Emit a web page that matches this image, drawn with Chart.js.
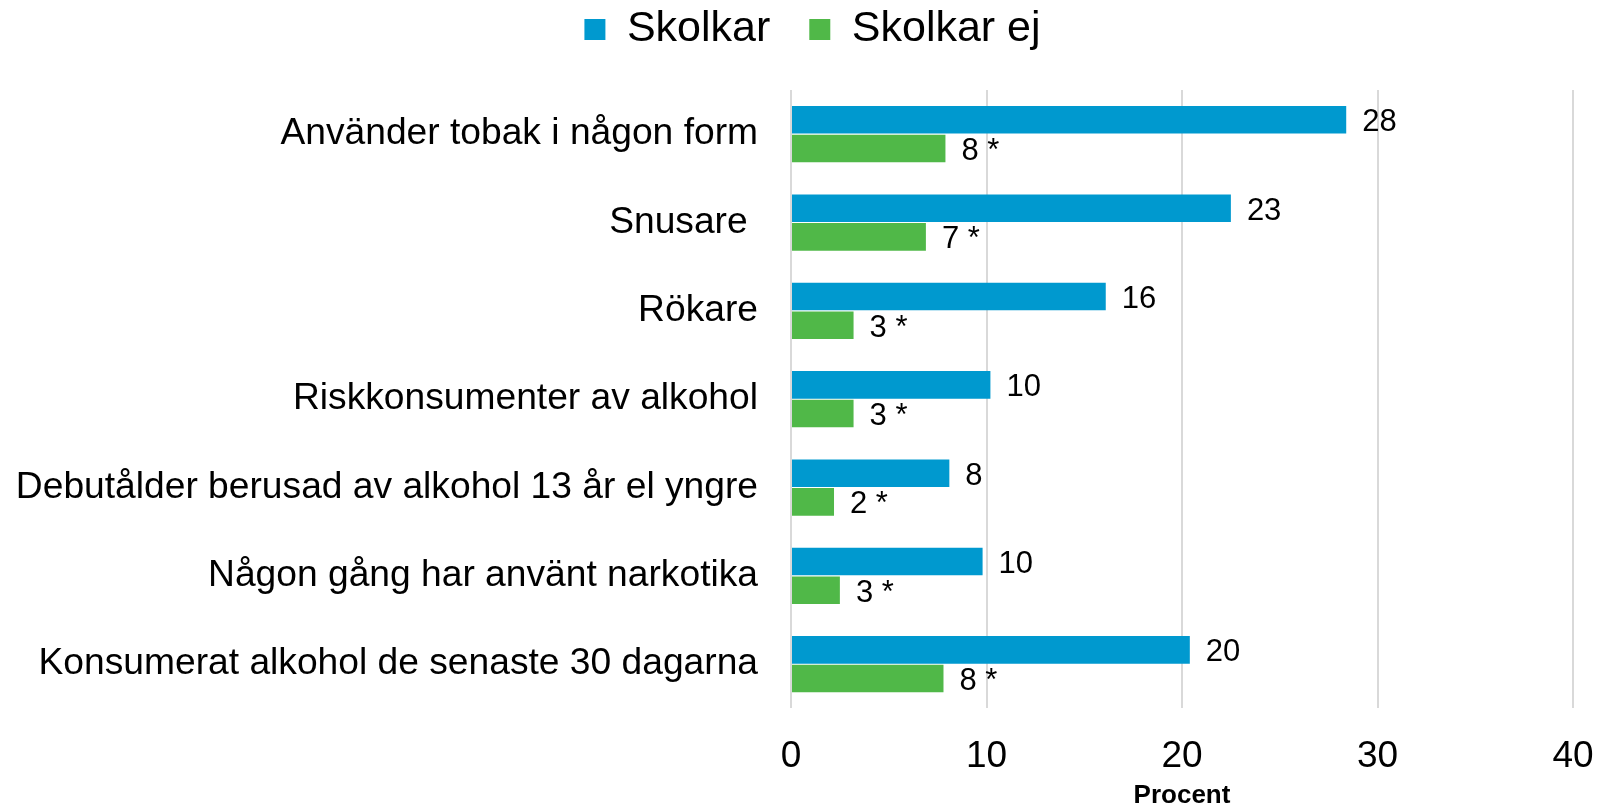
<!DOCTYPE html>
<html>
<head>
<meta charset="utf-8">
<script src="https://cdn.jsdelivr.net/npm/chart.js@4"></script>
<style>
  html, body { margin: 0; padding: 0; background: #fff; }
  #wrap { width: 1599px; height: 811px; }
</style>
</head>
<body>
<div id="wrap"><canvas id="skolk_graph" width="1599" height="811"></canvas></div>
<script>
// kategorier och värden (procent)
const categories = [
    'Använder tobak i någon form',
    'Snusare ',
    'Rökare',
    'Riskkonsumenter av alkohol',
    'Debutålder berusad av alkohol 13 år el yngre',
    'Någon gång har använt narkotika',
    'Konsumerat alkohol de senaste 30 dagarna'
];
const skolkar = [28.4, 22.5, 16.1, 10.2, 8.1, 9.8, 20.4];
const skolkarEj = [7.9, 6.9, 3.2, 3.2, 2.2, 2.5, 7.8];
const skolkarLabels = ['28', '23', '16', '10', '8', '10', '20'];
const skolkarEjLabels = ['8 *', '7 *', '3 *', '3 *', '2 *', '3 *', '8 *'];
const xTicks = [0, 10, 20, 30, 40];

const FONT = "'Liberation Sans', Arial, sans-serif";
Chart.defaults.font.family = FONT;
Chart.defaults.color = '#000';

// etiketter vid stapelns slut
const barLabels = {
    id: 'barLabels',
    afterDatasetsDraw(chart) {
        const ctx = chart.ctx;
        ctx.save();
        ctx.font = '31px ' + FONT;
        ctx.fillStyle = '#000';
        ctx.textAlign = 'left';
        ctx.textBaseline = 'middle';
        chart.data.datasets.forEach(function(ds, i) {
            chart.getDatasetMeta(i).data.forEach(function(bar, j) {
                ctx.fillText(ds.valueLabels[j], bar.x + 16, bar.y + 3);
            });
        });
        ctx.restore();
    }
};

// mer luft under legenden och lite förskjutning åt höger
const legendSpace = {
    id: 'legendSpace',
    beforeInit(chart) {
        if (!chart.legend) return;
        const fit = chart.legend.fit;
        chart.legend.fit = function() {
            fit.bind(chart.legend)();
            this.height = 121;
        };
    },
    afterLayout(chart) {
        if (!chart.legend) return;
        chart.legend.left += 26;
        chart.legend.right += 26;
    }
};

const chart = new Chart(document.getElementById('skolk_graph'), {
    type: 'bar',
    data: {
        labels: categories,
        datasets: [
            {
                label: 'Skolkar',
                data: skolkar,
                valueLabels: skolkarLabels,
                backgroundColor: '#0099cf',
                categoryPercentage: 0.65,
                barPercentage: 0.96
            },
            {
                label: 'Skolkar ej',
                data: skolkarEj,
                valueLabels: skolkarEjLabels,
                backgroundColor: '#50b848',
                categoryPercentage: 0.65,
                barPercentage: 0.96
            }
        ]
    },
    plugins: [barLabels, legendSpace],
    options: {
        indexAxis: 'y',
        responsive: false,
        animation: false,
        devicePixelRatio: 1,
        layout: { padding: { left: 0, right: 26, top: -31, bottom: 0 } },
        plugins: {
            tooltip: { enabled: false },
            legend: {
                position: 'top',
                labels: {
                    font: { size: 43 },
                    boxWidth: 21,
                    boxHeight: 21,
                    padding: 39,
                    color: '#000'
                }
            }
        },
        scales: {
            x: {
                min: 0,
                max: 40,
                afterBuildTicks(axis) {
                    axis.ticks = xTicks.map(v => ({ value: v }));
                },
                grid: {
                    color: '#d9d9d9',
                    lineWidth: 2,
                    drawTicks: true,
                    tickLength: 26,
                    tickColor: 'rgba(0,0,0,0)'
                },
                border: { display: false },
                ticks: { font: { size: 37 }, padding: 0, color: '#000' },
                title: {
                    display: true,
                    text: 'Procent',
                    font: { size: 26, weight: 'bold' },
                    padding: { top: 1, bottom: 0 },
                    color: '#000'
                }
            },
            y: {
                afterFit(axis) { axis.width = 791; },
                grid: { display: false, drawTicks: false },
                border: { display: false },
                ticks: { font: { size: 37.2 }, padding: 33, color: '#000' }
            }
        }
    }
});
</script>
</body>
</html>
